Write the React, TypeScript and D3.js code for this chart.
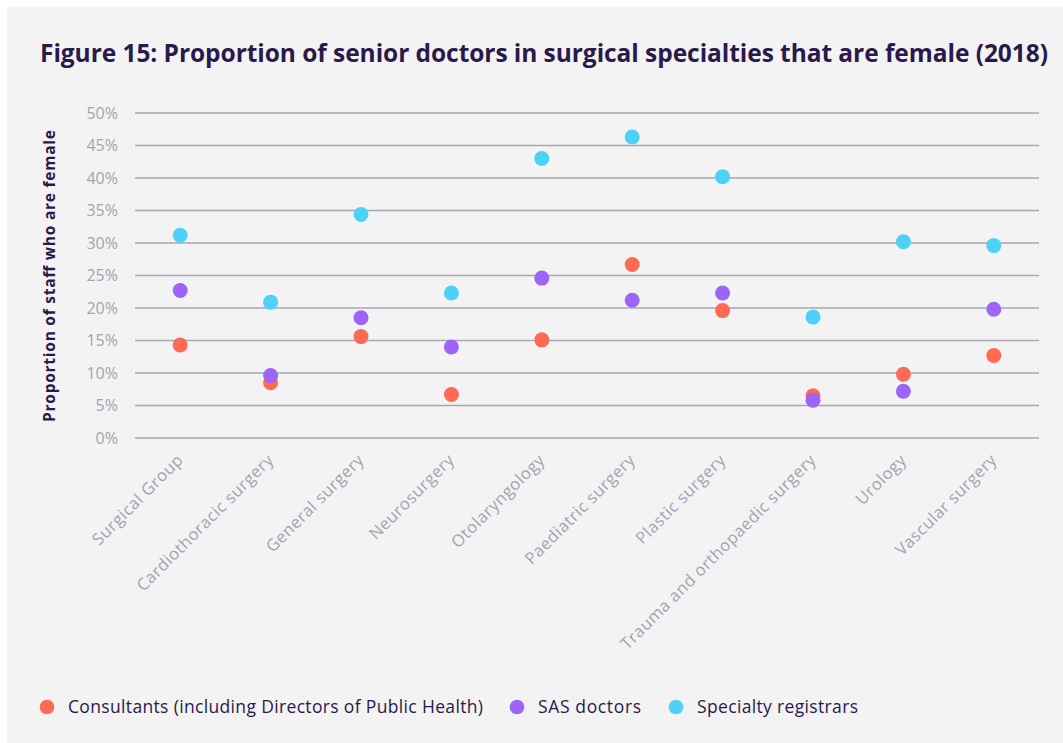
import React from "react";
import * as d3 from "d3";

const categories = [
  "Surgical Group",
  "Cardiothoracic surgery",
  "General surgery",
  "Neurosurgery",
  "Otolaryngology",
  "Paediatric surgery",
  "Plastic surgery",
  "Trauma and orthopaedic surgery",
  "Urology",
  "Vascular surgery",
];

const consultants = [14.3, 8.5, 15.6, 6.7, 15.1, 26.7, 19.6, 6.5, 9.8, 12.7];
const sasDoctors = [22.7, 9.6, 18.5, 14.0, 24.6, 21.2, 22.3, 5.8, 7.2, 19.8];
const registrars = [31.2, 20.9, 34.4, 22.3, 43.0, 46.3, 40.2, 18.6, 30.2, 29.6];

const yTicks = [0, 5, 10, 15, 20, 25, 30, 35, 40, 45, 50];

const seriesNames = [
  "Consultants (including Directors of Public Health)",
  "SAS doctors",
  "Specialty registrars",
];
const seriesColors = ["#ff6a55", "#9d64f8", "#4ed1f6"];

const W = 1063;
const H = 743;
const FONT = "'Open Sans', 'Noto Sans', sans-serif";

export default function App() {
  const x = d3.scaleBand<string>().domain(categories).range([135, 1039]);
  const y = d3.scaleLinear().domain([0, 50]).range([438, 113]);
  const series = [consultants, sasDoctors, registrars];
  const legendX = [47, 517, 676];
  const legendLen = [415, 103, 161];

  return (
    <svg
      width={W}
      height={H}
      style={{ position: "absolute", left: 0, top: 0 }}
      fontFamily={FONT}
    >
      <rect x={0} y={0} width={W} height={H} fill="#ffffff" />
      <rect x={7} y={7} width={W - 7} height={H - 7} fill="#f3f3f3" />
      <text
        x={40}
        y={62}
        fontSize={24.5}
        fontWeight={700}
        fill="#2a1a4c"
        textLength={1008}
      >
        Figure 15: Proportion of senior doctors in surgical specialties that are female (2018)
      </text>
      {yTicks.map((t) => (
        <g key={t}>
          <line
            x1={135}
            x2={1039}
            y1={y(t)}
            y2={y(t)}
            stroke="#a6a9b4"
            strokeWidth={1.5}
          />
          <text
            x={118}
            y={y(t)}
            dy="0.35em"
            textAnchor="end"
            fontSize={16}
            fill="#a1a4b2"
          >
            {t}%
          </text>
        </g>
      ))}
      <text
        transform={`translate(55,276) rotate(-90)`}
        textAnchor="middle"
        fontSize={15.5}
        fontWeight={700}
        fill="#2a1a4c"
        textLength={292}
      >
        Proportion of staff who are female
      </text>
      {categories.map((c) => {
        const cx = (x(c) as number) + x.bandwidth() / 2;
        return (
          <text
            key={c}
            transform={`translate(${cx + 4},${461}) rotate(-45)`}
            textAnchor="end"
            fontSize={16.5}
            letterSpacing={0.5}
            fill="#a1a4b2"
          >
            {c}
          </text>
        );
      })}
      {series.map((vals, si) =>
        vals.map((v, i) => (
          <circle
            key={`${si}-${i}`}
            cx={(x(categories[i]) as number) + x.bandwidth() / 2}
            cy={y(v)}
            r={7.5}
            fill={seriesColors[si]}
          />
        ))
      )}
      {seriesNames.map((n, i) => (
        <g key={n}>
          <circle cx={legendX[i]} cy={707} r={7.3} fill={seriesColors[i]} />
          <text
            x={legendX[i] + 21}
            y={707}
            dy="0.35em"
            fontSize={17.5}
            fill="#2a1a4c"
            textLength={legendLen[i]}
          >
            {n}
          </text>
        </g>
      ))}
    </svg>
  );
}
